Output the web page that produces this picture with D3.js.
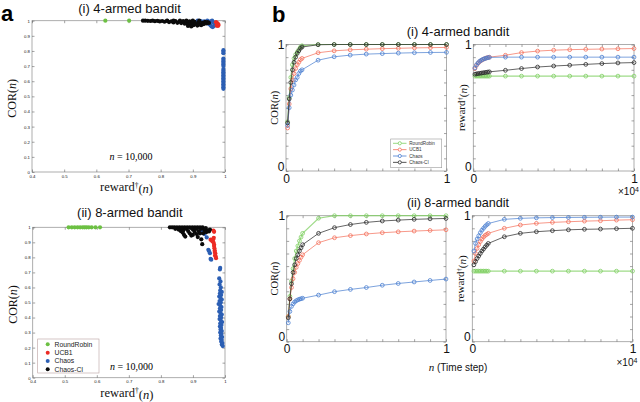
<!DOCTYPE html>
<html>
<head>
<meta charset="utf-8">
<script src="https://cdn.jsdelivr.net/npm/d3@7"></script>
<style>
body { margin: 0; background: #fff; }
svg { display: block; }
</style>
</head>
<body>
<svg id="fig" width="640" height="402"></svg>
<script>
// Data: panel a (scatter at n = 10,000), pairs are [reward, COR]
const rrScatI = [[0.628,1],[0.702,1]];
const ucbScatI = [[0.972,0.99],[0.975,0.985],[0.978,0.98],[0.976,0.975],[0.98,0.972],[0.974,0.968],[0.978,0.965]];
const chaosScatI = [[0.915,1],[0.925,0.998],[0.935,0.995],[0.94,0.99],[0.945,0.985],[0.95,0.978],[0.955,0.97],[0.958,0.962],
  [0.962,0.958],[0.966,0.965],[0.97,0.975],[0.955,0.995],[0.962,0.99],[0.968,0.985],[0.945,1],[0.96,1],
  [0.995,0.805],[0.995,0.795],[0.995,0.785],[0.995,0.75],[0.995,0.74],[0.995,0.73],[0.995,0.72],[0.995,0.71],[0.995,0.70],
  [0.995,0.68],[0.995,0.67],[0.995,0.66],[0.995,0.65],[0.995,0.64],[0.995,0.63],[0.995,0.62],[0.995,0.61],[0.995,0.60],
  [0.995,0.59],[0.995,0.58],[0.995,0.57],[0.995,0.56],[0.995,0.55]];
const cciScatI = [[0.745,1],[0.752,1],[0.76,0.999],[0.768,0.998],[0.775,1],[0.782,0.997],[0.79,0.999],[0.797,0.995],
  [0.805,0.998],[0.812,0.993],[0.82,0.999],[0.826,0.991],[0.833,0.996],[0.84,0.988],[0.846,0.998],[0.852,0.986],
  [0.858,0.993],[0.864,0.984],[0.87,0.997],[0.875,0.98],[0.88,0.99],[0.885,0.977],[0.89,0.995],[0.894,0.974],
  [0.898,0.985],[0.902,0.97],[0.906,0.992],[0.91,0.978],[0.914,0.968],[0.918,0.988],[0.922,0.975],[0.926,0.97],
  [0.93,0.985],[0.934,0.978],[0.938,0.993],[0.942,0.982],[0.946,0.99],[0.95,0.985],[0.88,1],[0.9,1],[0.86,1],
  [0.84,1],[0.82,1],[0.92,1],[0.885,0.965],[0.895,0.962]];

const rrScatII = [[0.512,1],[0.522,1],[0.531,1],[0.54,1],[0.548,1],[0.556,1],[0.562,1],[0.568,1],[0.575,1],[0.584,1],[0.596,1],[0.61,1]];
const ucbScatII = [[0.964,0.978],[0.966,0.97],[0.955,0.918],[0.959,0.91],[0.963,0.92],[0.964,0.9],[0.966,0.885],[0.966,0.875],
  [0.967,0.86],[0.968,0.845],[0.968,0.835],[0.97,0.825],[0.969,0.812],[0.971,0.805],[0.972,0.795],[0.965,0.93],[0.962,0.905]];
const chaosScatII = [[0.927,0.978],[0.93,0.962],[0.936,0.955],[0.943,0.933],[0.948,0.85],[0.95,0.842],[0.953,0.828],[0.955,0.79],[0.957,0.785],
  [0.985,0.73],[0.984,0.72],[0.982,0.66],[0.986,0.64],[0.983,0.62],[0.987,0.60],[0.985,0.58],[0.99,0.57],[0.984,0.56],
  [0.988,0.55],[0.982,0.54],[0.986,0.53],[0.99,0.52],[0.983,0.51],[0.987,0.50],[0.98,0.49],[0.985,0.48],[0.989,0.47],
  [0.984,0.46],[0.988,0.45],[0.982,0.44],[0.986,0.43],[0.99,0.42],[0.984,0.41],[0.988,0.40],[0.983,0.39],[0.987,0.38],
  [0.991,0.37],[0.985,0.36],[0.989,0.35],[0.984,0.34],[0.988,0.33],[0.986,0.32],[0.99,0.31],[0.985,0.30],[0.989,0.29],
  [0.987,0.28],[0.991,0.27],[0.986,0.26],[0.99,0.25],[0.988,0.24],[0.992,0.23],[0.99,0.22],[0.993,0.21]];
const cciScatII = [[0.828,1],[0.835,1],[0.842,1],[0.85,1],[0.858,1],[0.866,1],[0.874,1],[0.882,1],[0.89,1],[0.898,1],
  [0.906,1],[0.914,1],[0.922,1],[0.93,1],[0.845,0.99],[0.855,0.985],[0.862,0.975],[0.868,0.965],[0.872,0.95],[0.876,0.938],
  [0.88,0.99],[0.885,0.975],[0.89,0.96],[0.895,0.945],[0.9,0.985],[0.905,0.97],[0.91,0.99],[0.915,0.935],[0.918,0.975],
  [0.922,0.96],[0.926,0.92],[0.929,0.888],[0.932,0.96],[0.935,0.985],[0.938,0.975],[0.942,0.968],[0.946,0.98],[0.95,0.972],
  [0.953,0.985],[0.87,0.98],[0.86,0.99],[0.9,0.95],[0.912,0.955],[0.94,0.995],[0.925,0.99],[0.895,0.995],[0.865,0.995]];

// Data: panel b (time course)
const steps = [100,200,300,400,500,600,700,800,900,1000,2000,3000,4000,5000,6000,7000,8000,9000,10000];

const corRrI    = [0.39,0.58,0.74,0.84,0.89,0.92,0.94,0.96,0.98,0.99,1,1,1,1,1,1,1,1,1];
const corUcbI   = [0.34,0.53,0.65,0.72,0.77,0.81,0.84,0.86,0.88,0.89,0.935,0.95,0.958,0.963,0.967,0.97,0.973,0.975,0.977];
const corChaosI = [0.36,0.50,0.60,0.64,0.68,0.72,0.74,0.77,0.79,0.80,0.876,0.903,0.916,0.924,0.928,0.932,0.935,0.937,0.938];
const corCciI   = [0.38,0.57,0.70,0.80,0.86,0.90,0.93,0.95,0.97,0.98,0.998,1,1,1,1,1,1,1,1];

const rewRrI    = [0.75,0.75,0.75,0.75,0.75,0.75,0.75,0.75,0.75,0.75,0.75,0.75,0.75,0.75,0.75,0.75,0.75,0.75,0.75];
const rewUcbI   = [0.81,0.835,0.852,0.865,0.874,0.882,0.888,0.893,0.897,0.90,0.915,0.936,0.948,0.955,0.959,0.962,0.964,0.966,0.968];
const rewChaosI = [0.815,0.84,0.855,0.868,0.876,0.883,0.888,0.892,0.896,0.898,0.90,0.90,0.90,0.90,0.90,0.90,0.90,0.90,0.90];
const rewCciI   = [0.765,0.768,0.77,0.772,0.774,0.776,0.778,0.78,0.782,0.784,0.796,0.81,0.822,0.83,0.836,0.843,0.849,0.854,0.857];

const corRrII    = [0.20,0.36,0.48,0.58,0.66,0.72,0.76,0.80,0.83,0.86,0.98,1,1,1,1,1,1,1,1];
const corUcbII   = [0.20,0.34,0.43,0.50,0.55,0.59,0.62,0.645,0.67,0.69,0.786,0.825,0.842,0.855,0.865,0.872,0.878,0.883,0.888];
const corChaosII = [0.15,0.24,0.28,0.30,0.315,0.325,0.332,0.337,0.341,0.345,0.37,0.397,0.415,0.43,0.448,0.462,0.474,0.486,0.497];
const corCciII   = [0.19,0.34,0.46,0.55,0.61,0.66,0.69,0.72,0.745,0.77,0.86,0.905,0.93,0.947,0.958,0.965,0.971,0.975,0.978];

const rewRrII    = [0.56,0.56,0.56,0.56,0.56,0.56,0.56,0.56,0.56,0.56,0.56,0.56,0.56,0.56,0.56,0.56,0.56,0.56,0.56];
const rewUcbII   = [0.64,0.70,0.74,0.77,0.795,0.815,0.83,0.843,0.852,0.86,0.90,0.926,0.939,0.947,0.952,0.957,0.96,0.965,0.968];
const rewChaosII = [0.72,0.78,0.815,0.84,0.865,0.885,0.90,0.915,0.928,0.938,0.971,0.979,0.983,0.985,0.986,0.987,0.988,0.989,0.989];
const rewCciII   = [0.61,0.635,0.66,0.68,0.70,0.72,0.735,0.752,0.766,0.78,0.833,0.86,0.873,0.881,0.888,0.892,0.894,0.897,0.90];

// Names and ticks
const methods = ["RoundRobin", "UCB1", "Chaos", "Chaos-CI"];
const scatXTicks = [0.4,0.5,0.6,0.7,0.8,0.9,1];
const scatYTicks = [0,0.1,0.2,0.3,0.4,0.5,0.6,0.7,0.8,0.9,1];
const stepTicks = [0,1000,2000,3000,4000,5000,6000,7000,8000,9000,10000];
const unitTicks = [0,0.1,0.2,0.3,0.4,0.5,0.6,0.7,0.8,0.9,1];

// Colours
const dotColors = ["#6cc043", "#ec2b24", "#2c5fb4", "#0a0a0a"];
const lineColors = ["#7fcf62", "#f4705a", "#4a7fd0", "#2a2a2a"];

const SANS = "'Liberation Sans', Arial, sans-serif";
const SERIF = "'Liberation Serif', 'Times New Roman', serif";

const svg = d3.select("#fig");

// Boxed axes, ticks pointing inward on all four sides
var boxAxes = (g, x, y, xt, yt, fmtX, fmtY, fs, padX, padY) => {
    g.append("rect")
        .attr("x", x.range()[0]).attr("y", y.range()[1])
        .attr("width", x.range()[1] - x.range()[0])
        .attr("height", y.range()[0] - y.range()[1])
        .attr("fill", "none").attr("stroke", "#9a9a9a").attr("stroke-width", 0.8);

    const bottom = g.append("g").attr("transform", `translate(0,${y.range()[0]})`)
        .call(d3.axisBottom(x).tickValues(xt).tickSize(-2.5).tickPadding(padX).tickFormat(fmtX));
    const top = g.append("g").attr("transform", `translate(0,${y.range()[1]})`)
        .call(d3.axisTop(x).tickValues(xt).tickSize(-2.5).tickFormat(""));
    const left = g.append("g").attr("transform", `translate(${x.range()[0]},0)`)
        .call(d3.axisLeft(y).tickValues(yt).tickSize(-2.5).tickPadding(padY).tickFormat(fmtY));
    const right = g.append("g").attr("transform", `translate(${x.range()[1]},0)`)
        .call(d3.axisRight(y).tickValues(yt).tickSize(-2.5).tickFormat(""));

    [bottom, top, left, right].forEach(a => {
        a.select(".domain").remove();
        a.selectAll(".tick line").attr("stroke", "#666").attr("stroke-width", 0.6);
        a.selectAll("text").attr("font-family", SANS).attr("font-size", fs).attr("fill", "#111");
    });
    return left;
}

var rewardLabel = (sel) => {
    sel.append("tspan").text("reward");
    sel.append("tspan").attr("dy", "-0.45em").attr("font-size", "0.6em").text("\u2020");
    sel.append("tspan").attr("dy", "0.45em").text("(");
    sel.append("tspan").attr("font-style", "italic").text("n");
    sel.append("tspan").text(")");
}

var corLabel = (sel) => {
    sel.append("tspan").text("COR(");
    sel.append("tspan").attr("font-style", "italic").text("n");
    sel.append("tspan").text(")");
}

var nLabel = (g, cx, by) => {
    const t = g.append("text").attr("x", cx).attr("y", by).attr("text-anchor", "middle")
        .attr("font-family", SERIF).attr("font-size", 10);
    t.append("tspan").attr("font-style", "italic").text("n");
    t.append("tspan").text(" = 10,000");
}

var scatterPanel = (box, sets, title, titleY) => {
    const g = svg.append("g");
    const x = d3.scaleLinear().domain([0.4, 1]).range([box.x0, box.x1]);
    const y = d3.scaleLinear().domain([0, 1]).range([box.y0, box.y1]);
    boxAxes(g, x, y, scatXTicks, scatYTicks, d3.format("~g"), d3.format("~g"), 4.3, 2.5, 2);

    sets.forEach(s => {
        g.append("g").selectAll("circle").data(s.data).join("circle")
            .attr("cx", d => x(d[0])).attr("cy", d => y(d[1]))
            .attr("r", 2.1).attr("fill", dotColors[s.k]);
    });

    g.append("text").attr("x", (box.x0 + box.x1) / 2 + 1).attr("y", titleY)
        .attr("text-anchor", "middle").attr("font-family", SANS).attr("font-size", 13)
        .attr("fill", "#111").text(title);

    g.append("text").attr("transform", `translate(${box.x0 - 16},${(box.y0 + box.y1) / 2 + 2}) rotate(-90)`)
        .attr("text-anchor", "middle").attr("font-family", SERIF).attr("font-size", 12)
        .attr("fill", "#111").call(corLabel);

    g.append("text").attr("x", (box.x0 + box.x1) / 2 - 2).attr("y", box.y0 + 19)
        .attr("text-anchor", "middle").attr("font-family", SERIF).attr("font-size", 12.5)
        .attr("fill", "#111").call(rewardLabel);
    return g;
}

var linePanel = (box, series, yLabel, showTicksX) => {
    const g = svg.append("g");
    const x = d3.scaleLinear().domain([0, 10000]).range([box.x0, box.x1]);
    const y = d3.scaleLinear().domain([0, 1]).range([box.y0, box.y1]);
    const left = boxAxes(g, x, y, stepTicks, unitTicks,
        d => d === 0 ? "0" : (d === 10000 ? "1" : ""),
        d => d === 0 ? "0" : (d === 1 ? "1" : ""), 12, 3, 1.5);
    left.selectAll(".tick text").attr("dy", d => d === 0 ? "-0.08em" : "0.34em");

    const line = d3.line().x((d, i) => x(steps[i])).y(d => y(d));
    series.forEach((vals, k) => {
        g.append("path").datum(vals).attr("d", line)
            .attr("fill", "none").attr("stroke", lineColors[k])
            .attr("stroke-width", k === 0 ? 1.2 : 0.8).attr("stroke-opacity", k === 0 ? 0.75 : 0.9);
        g.append("g").selectAll("circle").data(vals).join("circle")
            .attr("cx", (d, i) => x(steps[i])).attr("cy", d => y(d))
            .attr("r", 1.9).attr("fill", "none")
            .attr("stroke", lineColors[k]).attr("stroke-width", 0.8);
    });

    const lab = g.append("text")
        .attr("transform", `translate(${box.x0 - 8.5},${(box.y0 + box.y1) / 2}) rotate(-90)`)
        .attr("text-anchor", "middle").attr("font-family", SERIF).attr("fill", "#111");
    if (yLabel === "cor") lab.attr("font-size", 10.5).call(corLabel);
    else lab.attr("font-size", 11).call(rewardLabel);

    if (showTicksX) {
        const t = g.append("text").attr("x", box.x1 - 16).attr("y", box.y0 + 24)
            .attr("font-family", SANS).attr("font-size", 10).attr("fill", "#111");
        t.append("tspan").text("\u00d710");
        t.append("tspan").attr("dy", "-0.45em").attr("font-size", "0.7em").text("4");
    }
    return { g, x, y };
}

// ---- Panel a ----
const aTop = scatterPanel({ x0: 32, x1: 225, y0: 172, y1: 20.7 },
    [{ data: rrScatI, k: 0 }, { data: chaosScatI, k: 2 }, { data: ucbScatI, k: 1 }, { data: cciScatI, k: 3 }],
    "(i) 4-armed bandit", 12.5);
nLabel(aTop, 131, 160);

const aBot = scatterPanel({ x0: 32.7, x1: 225, y0: 377.7, y1: 227.3 },
    [{ data: rrScatII, k: 0 }, { data: ucbScatII, k: 1 }, { data: chaosScatII, k: 2 }, { data: cciScatII, k: 3 }],
    "(ii) 8-armed bandit", 216.5);

// legend of panel a
const legA = aBot.append("g");
legA.append("rect").attr("x", 37.7).attr("y", 339).attr("width", 61.3).attr("height", 34)
    .attr("fill", "#fff").attr("stroke", "#b9a0a0").attr("stroke-width", 0.6);
methods.forEach((m, i) => {
    const yy = 344.3 + i * 8.35;
    legA.append("circle").attr("cx", 47.7).attr("cy", yy).attr("r", 2).attr("fill", dotColors[i]);
    legA.append("text").attr("x", 54.5).attr("y", yy + 2.4).attr("font-family", SANS)
        .attr("font-size", 6.8).attr("fill", "#222").text(m);
});
nLabel(aBot, 131.5, 370);

// ---- Panel b ----
const bTL = linePanel({ x0: 286, x1: 446.5, y0: 171, y1: 44.5 },
    [corRrI, corUcbI, corChaosI, corCciI], "cor", false);
const bTR = linePanel({ x0: 473.3, x1: 634, y0: 171, y1: 44.5 },
    [rewRrI, rewUcbI, rewChaosI, rewCciI], "reward", true);
const bBL = linePanel({ x0: 286.7, x1: 446, y0: 341.7, y1: 215.7 },
    [corRrII, corUcbII, corChaosII, corCciII], "cor", false);
const bBR = linePanel({ x0: 472.3, x1: 632.5, y0: 341.7, y1: 215.7 },
    [rewRrII, rewUcbII, rewChaosII, rewCciII], "reward", true);

// legend of panel b
const legB = bTL.g.append("g");
legB.append("rect").attr("x", 390.7).attr("y", 139).attr("width", 51).attr("height", 28.7)
    .attr("fill", "#fff").attr("stroke", "#9a9a9a").attr("stroke-width", 0.6);
methods.forEach((m, i) => {
    const yy = 143.3 + i * 6.35;
    legB.append("line").attr("x1", 393).attr("x2", 406.5).attr("y1", yy).attr("y2", yy)
        .attr("stroke", lineColors[i]).attr("stroke-width", 0.8);
    legB.append("circle").attr("cx", 399.8).attr("cy", yy).attr("r", 1.6).attr("fill", "#fff")
        .attr("stroke", lineColors[i]).attr("stroke-width", 0.8);
    legB.append("text").attr("x", 409.3).attr("y", yy + 1.6).attr("font-family", SANS)
        .attr("font-size", 4.6).attr("fill", "#333").text(m);
});

// titles of panel b
svg.append("text").attr("x", 458).attr("y", 35.5).attr("text-anchor", "middle")
    .attr("font-family", SANS).attr("font-size", 13).attr("fill", "#111").text("(i) 4-armed bandit");
svg.append("text").attr("x", 458).attr("y", 207).attr("text-anchor", "middle")
    .attr("font-family", SANS).attr("font-size", 12.6).attr("fill", "#111").text("(ii) 8-armed bandit");

// shared x label
const xl = svg.append("text").attr("x", 458).attr("y", 371).attr("text-anchor", "middle")
    .attr("font-family", SANS).attr("font-size", 10).attr("fill", "#111");
xl.append("tspan").attr("font-family", SERIF).attr("font-style", "italic").attr("font-size", 11).text("n");
xl.append("tspan").text(" (Time step)");

// panel letters
svg.append("text").attr("x", 1).attr("y", 21).attr("font-family", SANS).attr("font-weight", "bold")
    .attr("font-size", 22).attr("fill", "#000").text("a");
svg.append("text").attr("x", 272).attr("y", 21.5).attr("font-family", SANS).attr("font-weight", "bold")
    .attr("font-size", 22).attr("fill", "#000").text("b");
</script>
</body>
</html>
